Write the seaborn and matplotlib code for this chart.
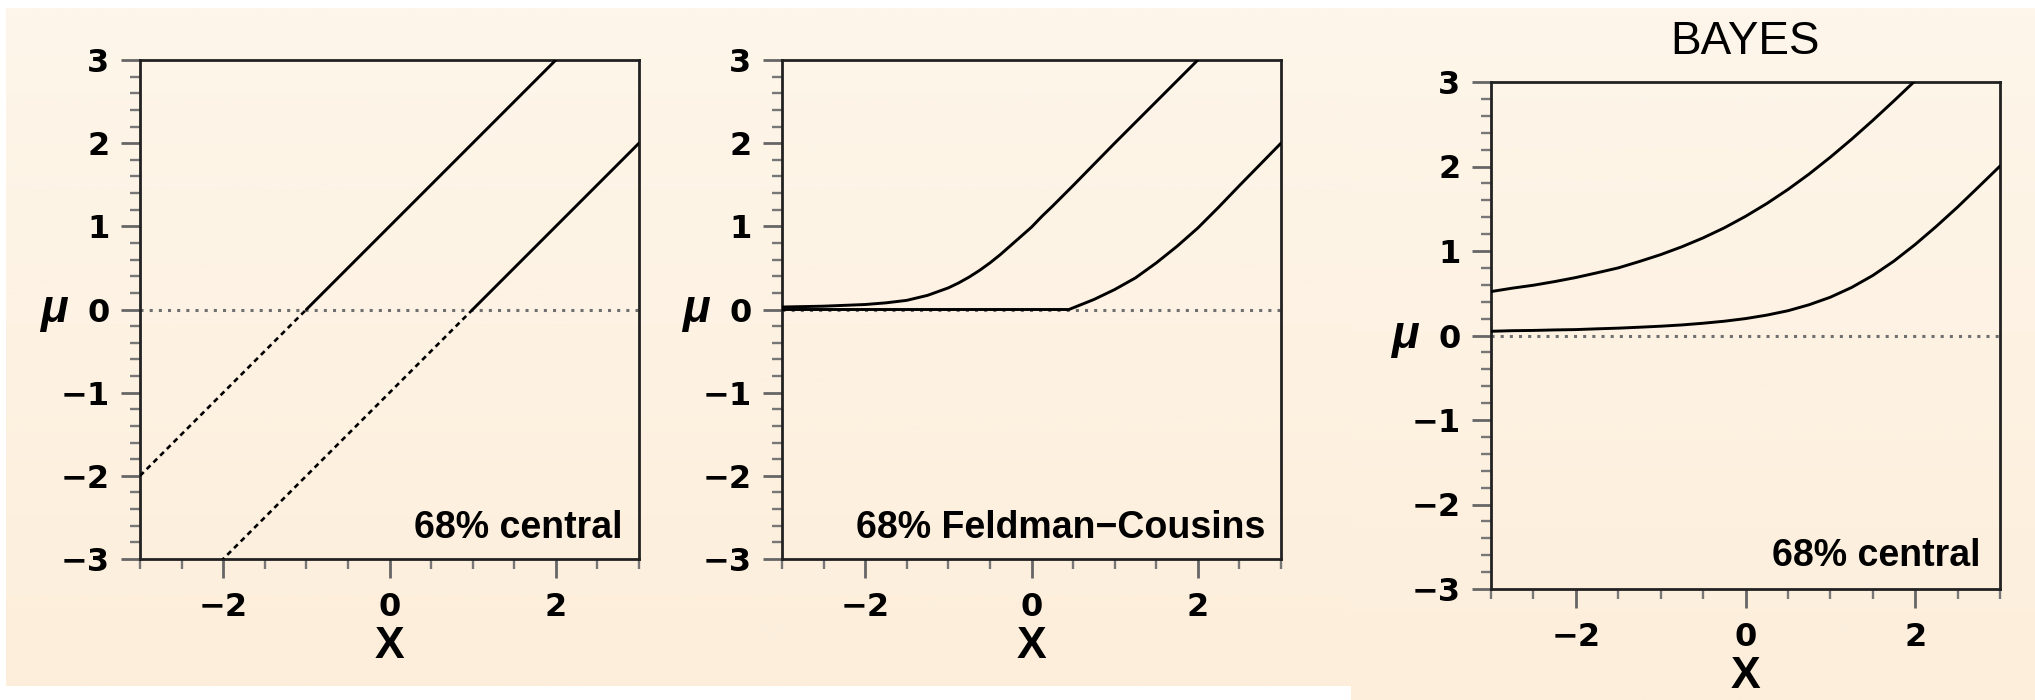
import numpy as np
import matplotlib
matplotlib.use("Agg")
import matplotlib.pyplot as plt
from matplotlib.colors import LinearSegmentedColormap
from matplotlib.ticker import MultipleLocator
import seaborn as sns

# Classical 68% central belt for a unit Gaussian: mu = x -/+ 1
central_x = [-3, -2, -1, 0, 1, 2, 3]
central_upper = [-2, -1, 0, 1, 2, 3, 4]
central_lower = [-4, -3, -2, -1, 0, 1, 2]

# Feldman-Cousins 68% belt
fc_upper_x = [-3.0, -2.5, -2.0, -1.75, -1.5, -1.25, -1.0, -0.875, -0.75, -0.625,
              -0.5, -0.375, -0.25, -0.125, 0.0, 0.125, 0.25, 0.5, 1.0, 1.5, 2.0]
fc_upper = [0.03, 0.04, 0.06, 0.08, 0.11, 0.17, 0.26, 0.32, 0.39, 0.47,
            0.56, 0.66, 0.77, 0.88, 0.99, 1.12, 1.24, 1.49, 2.00, 2.50, 3.00]
fc_lower_x = [-3.0, 0.45, 0.55, 0.65, 0.75, 0.875, 1.0, 1.125, 1.25, 1.375, 1.5,
              1.625, 1.75, 1.875, 2.0, 2.25, 2.5, 3.0]
fc_lower = [0.0, 0.0, 0.04, 0.08, 0.12, 0.18, 0.24, 0.31, 0.38, 0.47, 0.56,
            0.66, 0.76, 0.87, 0.98, 1.23, 1.49, 2.0]

# Bayesian 68% central interval, flat prior on mu >= 0
bayes_upper_x = [-3.0, -2.75, -2.5, -2.25, -2.0, -1.75, -1.5, -1.25, -1.0, -0.75,
                 -0.5, -0.25, 0.0, 0.25, 0.5, 0.75, 1.0, 1.25, 1.5, 1.75, 2.0, 2.25]
bayes_upper = [0.52, 0.56, 0.595, 0.638, 0.686, 0.742, 0.80, 0.876, 0.957, 1.05,
               1.155, 1.274, 1.41, 1.561, 1.728, 1.911, 2.11, 2.322, 2.545, 2.777,
               3.015, 3.258]
bayes_lower_x = [-3.0, -2.75, -2.5, -2.25, -2.0, -1.75, -1.5, -1.25, -1.0, -0.75,
                 -0.5, -0.25, 0.0, 0.25, 0.5, 0.75, 1.0, 1.25, 1.5, 1.75, 2.0,
                 2.25, 2.5, 2.75, 3.0]
bayes_lower = [0.05, 0.057, 0.06, 0.066, 0.07, 0.079, 0.087, 0.098, 0.11, 0.125,
               0.145, 0.169, 0.20, 0.241, 0.293, 0.364, 0.453, 0.568, 0.71, 0.881,
               1.077, 1.292, 1.52, 1.761, 2.005]

panel_labels = ["68% central", "68% Feldman\u2212Cousins", "68% central"]
title_right = "BAYES"

sns.set_theme(style="ticks")
plt.rcParams["font.family"] = ["Liberation Sans", "DejaVu Sans"]
plt.rcParams["axes.unicode_minus"] = True
plt.rcParams["text.color"] = "black"
plt.rcParams["axes.labelcolor"] = "black"

W, H = 2035, 700
fig = plt.figure(figsize=(W / 100, H / 100), dpi=100, facecolor="white")

cream = LinearSegmentedColormap.from_list("cream", ["#fdf6ea", "#fdeedb"])
grad = np.linspace(0, 1, 256).reshape(-1, 1)


def backdrop(x0, y0, x1, y1):
    bg = fig.add_axes([x0 / W, 1 - y1 / H, (x1 - x0) / W, (y1 - y0) / H], zorder=-10)
    bg.imshow(grad, aspect="auto", cmap=cream, extent=(0, 1, 0, 1), origin="upper")
    bg.set_axis_off()


backdrop(6, 8, 1351, 686)
backdrop(1351, 8, W, H)


def make_axes(x0, y0, x1, y1):
    ax = fig.add_axes([x0 / W, 1 - y1 / H, (x1 - x0) / W, (y1 - y0) / H])
    ax.set_facecolor("none")
    ax.set_xlim(-3, 3)
    ax.set_ylim(-3, 3)
    ax.xaxis.set_major_locator(MultipleLocator(2))
    ax.xaxis.set_minor_locator(MultipleLocator(0.5))
    ax.yaxis.set_major_locator(MultipleLocator(1))
    ax.yaxis.set_minor_locator(MultipleLocator(0.2))
    for s in ax.spines.values():
        s.set_visible(True)
        s.set_color("#222222")
        s.set_linewidth(2.0)
    ax.tick_params(which="major", direction="out", length=14, width=2.0,
                   color="#666666", labelcolor="black", labelsize=23, pad=8)
    ax.tick_params(which="minor", direction="out", length=7.5, width=1.7,
                   color="#777777")
    ax.tick_params(axis="x", which="major", pad=10)
    for lab in ax.get_xticklabels() + ax.get_yticklabels():
        lab.set_fontweight("bold")
        lab.set_family(["DejaVu Sans"])
    ax.set_xlabel("X", fontsize=32, fontweight="bold", labelpad=2, color="black")
    ax.set_ylabel("\u03bc", fontsize=33, fontweight="bold", fontstyle="italic",
                  rotation=0, ha="center", va="center", color="black")
    ax.yaxis.set_label_coords(-86 / (x1 - x0), 0.5)
    ax.axhline(0, color="#6f6f6f", lw=2.2, ls=(0, (1.0, 2.0)), zorder=1)
    return ax


ax1 = make_axes(140, 60, 639, 559)
ax2 = make_axes(782, 60, 1281, 559)
ax3 = make_axes(1491, 82, 2000, 589)

line_kw = dict(color="black", linewidth=2.1, estimator=None, sort=False, zorder=3)

# Central belt: dashed where mu < 0, solid where mu >= 0
cx = np.array(central_x)
for band in (np.array(central_upper), np.array(central_lower)):
    neg = band <= 0
    pos = band >= 0
    sns.lineplot(x=cx[neg], y=band[neg], ax=ax1, linestyle=(0, (2.0, 1.6)),
                 **{**line_kw, "linewidth": 1.9})
    sns.lineplot(x=cx[pos], y=band[pos], ax=ax1, **line_kw)

sns.lineplot(x=fc_upper_x, y=fc_upper, ax=ax2, **line_kw)
sns.lineplot(x=fc_lower_x, y=fc_lower, ax=ax2, **line_kw)

sns.lineplot(x=bayes_upper_x, y=bayes_upper, ax=ax3, **line_kw)
sns.lineplot(x=bayes_lower_x, y=bayes_lower, ax=ax3, **line_kw)

for ax, text, dx, dy in ((ax1, panel_labels[0], 17, 21),
                         (ax2, panel_labels[1], 16, 21),
                         (ax3, panel_labels[2], 19, 23)):
    w = ax.get_position().width * W
    h = ax.get_position().height * H
    ax.text(1 - dx / w, dy / h, text, transform=ax.transAxes, ha="right",
            va="baseline", fontsize=27, fontweight="bold", color="black", zorder=4)

ax3.set_title(title_right, fontsize=33, pad=20, color="black")

fig.savefig("out.png", dpi=100, facecolor="white")
